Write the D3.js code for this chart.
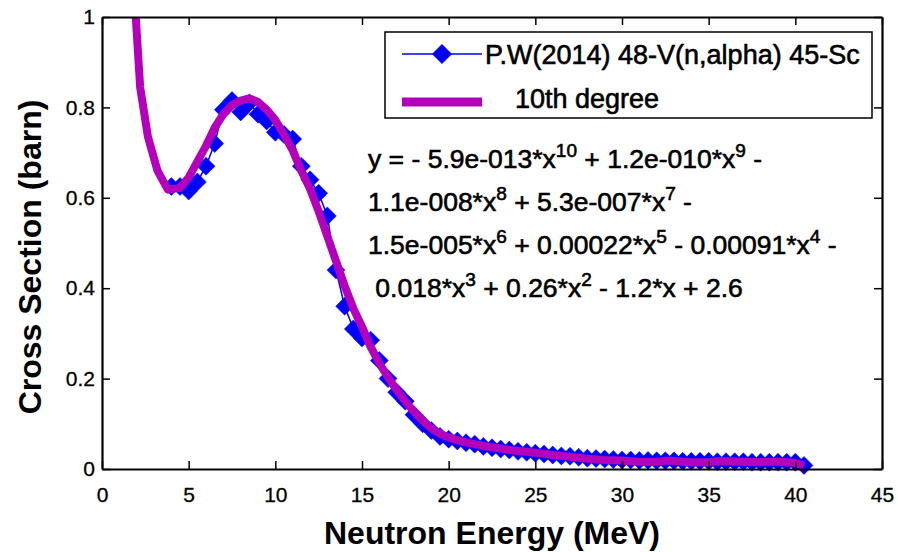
<!DOCTYPE html>
<html><head><meta charset="utf-8">
<script src="https://cdn.jsdelivr.net/npm/d3@7"></script>
<style>
body{margin:0;background:#fff}
text{font-family:"Liberation Sans",Arial,Helvetica,sans-serif;fill:#000}
.heavy{stroke:#000;stroke-width:0.6px}
</style>
</head><body>
<svg id="chart" width="898" height="552"></svg>
<script>
// ---- data ----
const energy = [4,4.5,5,5.5,6,6.5,7,7.5,8,8.5,9,9.5,10,10.5,11,11.5,12,12.5,13,13.5,14,14.5,15,15.5,16,16.5,17,17.5,18,18.5,19,19.5,20,20.5,21,21.5,22,22.5,23,23.5,24,24.5,25,25.5,26,26.5,27,27.5,28,28.5,29,29.5,30,30.5,31,31.5,32,32.5,33,33.5,34,34.5,35,35.5,36,36.5,37,37.5,38,38.5,39,39.5,40,40.5];
const crossSection = [0.625,0.625,0.615,0.635,0.67,0.72,0.795,0.815,0.79,0.81,0.785,0.77,0.745,0.74,0.73,0.67,0.64,0.61,0.56,0.44,0.36,0.31,0.29,0.285,0.24,0.2,0.17,0.15,0.12,0.1,0.085,0.072,0.066,0.062,0.058,0.055,0.05,0.047,0.044,0.042,0.039,0.037,0.035,0.033,0.031,0.029,0.028,0.026,0.024,0.023,0.022,0.021,0.02,0.02,0.019,0.019,0.018,0.018,0.018,0.017,0.017,0.017,0.017,0.016,0.016,0.016,0.016,0.015,0.015,0.015,0.015,0.015,0.015,0.008];
const fitEnergy = [1.9,2.2,2.65,3.2,3.8,4.5,5,5.5,6,6.5,7,7.5,8,8.5,9,9.5,10,10.5,11,11.5,12,12.5,13,13.5,14,14.5,15,15.5,16,16.5,17,17.5,18,18.5,19,19.5,20,20.5,21,21.5,22,22.5,23,23.5,24,24.5,25,25.5,26,26.5,27,27.5,28,28.5,29,30,31,32,32.5,33,33.5,34,35,35.5,36,37,38,38.5,39,40,40.5];
const fitValues = [1.03,0.845,0.735,0.66,0.618,0.622,0.645,0.68,0.715,0.755,0.785,0.805,0.815,0.82,0.812,0.795,0.772,0.74,0.705,0.66,0.62,0.57,0.515,0.46,0.405,0.355,0.315,0.27,0.234,0.203,0.175,0.15,0.127,0.107,0.09,0.078,0.07,0.064,0.059,0.055,0.051,0.048,0.045,0.042,0.04,0.038,0.036,0.034,0.031,0.029,0.027,0.025,0.023,0.021,0.02,0.019,0.016,0.016,0.018,0.018,0.016,0.015,0.015,0.017,0.017,0.016,0.015,0.016,0.016,0.014,0.007];
const xTicks = [0,5,10,15,20,25,30,35,40,45];
const yTicks = [0,0.2,0.4,0.6,0.8,1];
const yTickLabels = ["0","0.2","0.4","0.6","0.8","1"];
const legendLabels = ["P.W(2014) 48-V(n,alpha) 45-Sc","10th degree"];
const equationLines = [
  [["y = - 5.9e-013*x",0],["10",1],[" + 1.2e-010*x",0],["9",1],[" -",0]],
  [["1.1e-008*x",0],["8",1],[" + 5.3e-007*x",0],["7",1],[" -",0]],
  [["1.5e-005*x",0],["6",1],[" + 0.00022*x",0],["5",1],[" - 0.00091*x",0],["4",1],[" -",0]],
  [[" 0.018*x",0],["3",1],[" + 0.26*x",0],["2",1],[" - 1.2*x + 2.6",0]]
];
const xLabel = "Neutron Energy (MeV)";
const yLabel = "Cross Section (barn)";

// ---- layout ----
const L = 102, R = 882, T = 17, B = 469;
const blue = "#0000ff", purple = "#b400bb";
const svg = d3.select("#chart");
const x = d3.scaleLinear().domain([0,45]).range([L,R]);
const y = d3.scaleLinear().domain([0,1]).range([B,T]);

svg.append("defs").append("clipPath").attr("id","clip")
  .append("rect").attr("x",L).attr("y",T).attr("width",R-L).attr("height",B-T);

const diamond = r => `M0,${-r}L${r},0L0,${r}L${-r},0Z`;

// data line + markers
const plotG = svg.append("g");
plotG.append("path")
  .datum(energy.map((e,i)=>[e,crossSection[i]]))
  .attr("clip-path","url(#clip)")
  .attr("fill","none").attr("stroke",blue).attr("stroke-width",1.5)
  .attr("d", d3.line().x(d=>x(d[0])).y(d=>y(d[1])));
plotG.selectAll("path.mk").data(energy.map((e,i)=>[e,crossSection[i]]))
  .join("path").attr("class","mk")
  .attr("transform",d=>`translate(${x(d[0])},${y(d[1])})`)
  .attr("d",diamond(9)).attr("fill",blue).attr("stroke",blue).attr("stroke-width",0.5);

// fit line
plotG.append("path")
  .datum(fitEnergy.map((e,i)=>[e,fitValues[i]]))
  .attr("clip-path","url(#clip)")
  .attr("fill","none").attr("stroke",purple).attr("stroke-width",8)
  .attr("stroke-linejoin","round")
  .attr("d", d3.line().x(d=>x(d[0])).y(d=>y(d[1])));

// axes
const axW = 2.2;
const gx = svg.append("g").attr("transform",`translate(0,${B})`)
  .call(d3.axisBottom(x).tickValues(xTicks).tickSize(-8).tickSizeOuter(0).tickPadding(18));
const gy = svg.append("g").attr("transform",`translate(${L},0)`)
  .call(d3.axisLeft(y).tickValues(yTicks).tickFormat((d,i)=>yTickLabels[i]).tickSize(-8).tickSizeOuter(0).tickPadding(7));
const gt = svg.append("g").attr("transform",`translate(0,${T})`)
  .call(d3.axisTop(x).tickValues(xTicks).tickSize(-8).tickSizeOuter(0).tickFormat(""));
const gr = svg.append("g").attr("transform",`translate(${R},0)`)
  .call(d3.axisRight(y).tickValues(yTicks).tickSize(-8).tickSizeOuter(0).tickFormat(""));
[gx,gy,gt,gr].forEach(g=>{
  g.select(".domain").attr("stroke","#000").attr("stroke-width",axW);
  g.selectAll(".tick line").attr("stroke","#000").attr("stroke-width",1.5);
  g.selectAll(".tick text").style("font-size","21px").attr("fill","#000")
    .attr("stroke","#000").attr("stroke-width",0.3);
});

// axis labels
svg.append("text").attr("x",(L+R)/2).attr("y",544).attr("text-anchor","middle")
  .style("font-size","32px").style("font-weight","bold").text(xLabel);
svg.append("text").attr("transform",`translate(41,${(T+B)/2+14}) rotate(-90)`)
  .attr("text-anchor","middle").style("font-size","32px").style("font-weight","bold").text(yLabel);

// legend
const lg = svg.append("g");
lg.append("rect").attr("x",385).attr("y",32).attr("width",487).attr("height",86)
  .attr("fill","#fff").attr("stroke","#000").attr("stroke-width",1.5);
lg.append("line").attr("x1",402).attr("x2",482).attr("y1",54).attr("y2",54)
  .attr("stroke",blue).attr("stroke-width",1.5);
lg.append("path").attr("transform","translate(442,54)").attr("d",diamond(10)).attr("fill",blue);
lg.append("text").attr("class","heavy").attr("x",485).attr("y",64).style("font-size","27px").text(legendLabels[0]);
lg.append("line").attr("x1",402).attr("x2",482).attr("y1",102).attr("y2",102)
  .attr("stroke",purple).attr("stroke-width",9);
lg.append("text").attr("class","heavy").attr("x",515).attr("y",108).style("font-size","27px").text(legendLabels[1]);

// equation
const eqBase = [168,211,254,297];
equationLines.forEach((segs,i)=>{
  const t = svg.append("text").attr("class","heavy").attr("x",368).attr("y",eqBase[i])
    .style("font-size","26.5px").attr("xml:space","preserve").style("white-space","pre");
  segs.forEach(([s,sup],j)=>{
    const ts = t.append("tspan").text(s);
    if (sup) ts.attr("dy",-11).style("font-size","19px");
    else if (j>0) ts.attr("dy",11);
  });
});
</script>
</body></html>
